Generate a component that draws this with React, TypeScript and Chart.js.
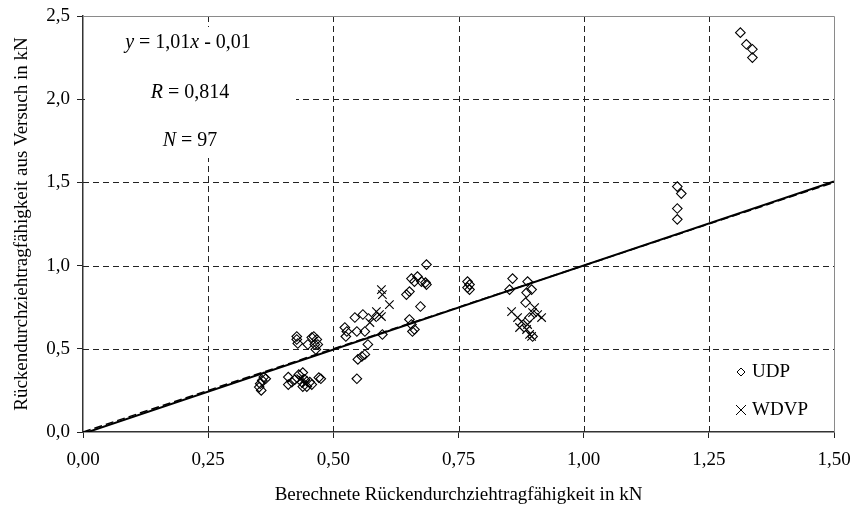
import { useEffect, useRef } from 'react';
import { Chart, registerables } from 'chart.js';

Chart.register(...registerables);

const xTicks = [0, 0.25, 0.5, 0.75, 1.0, 1.25, 1.5];
const yTicks = [0, 0.5, 1.0, 1.5, 2.0, 2.5];

const udpX = [
  0.361, 0.358, 0.354, 0.352, 0.356, 0.365,
  0.41, 0.417, 0.41, 0.423, 0.431, 0.439, 0.437, 0.443, 0.439, 0.447, 0.453, 0.457, 0.471, 0.475,
  0.427, 0.427, 0.429, 0.457, 0.461, 0.467, 0.463, 0.449, 0.469, 0.465,
  0.686, 0.656, 0.662, 0.668, 0.676, 0.684, 0.686, 0.646, 0.652, 0.674,
  0.543, 0.559, 0.523, 0.527, 0.525, 0.547, 0.563, 0.569, 0.598, 0.652,
  0.656, 0.658, 0.662, 0.547, 0.549, 0.557, 0.563,
  0.768, 0.772, 0.768, 0.772,
  0.858, 0.852, 0.888, 0.896, 0.886, 0.884, 0.892, 0.898,
  1.187, 1.195, 1.187, 1.187,
  1.313, 1.325, 1.337, 1.337,
];
const udpY = [
  0.33, 0.31, 0.29, 0.27, 0.25, 0.32,
  0.33, 0.30, 0.285, 0.315, 0.345, 0.357, 0.30, 0.315, 0.273, 0.273, 0.30, 0.285, 0.327, 0.32,
  0.574, 0.556, 0.532, 0.568, 0.574, 0.556, 0.526, 0.526, 0.526, 0.496,
  1.006, 0.922, 0.904, 0.934, 0.904, 0.898, 0.886, 0.826, 0.844, 0.754,
  0.688, 0.706, 0.628, 0.604, 0.574, 0.604, 0.604, 0.526, 0.586, 0.676,
  0.646, 0.604, 0.616, 0.32, 0.436, 0.454, 0.466,
  0.904, 0.886, 0.868, 0.856,
  0.922, 0.856, 0.904, 0.856, 0.838, 0.778, 0.688, 0.574,
  1.475, 1.433, 1.343, 1.278,
  2.40, 2.33, 2.30, 2.25,
];

const wdvpX = [
  0.44, 0.445, 0.435,
  0.596, 0.598, 0.612, 0.586, 0.592, 0.578, 0.573, 0.596,
  0.856, 0.868, 0.876, 0.872, 0.886, 0.892, 0.898, 0.908, 0.916, 0.902, 0.896, 0.888,
];
const wdvpY = [
  0.31, 0.29, 0.32,
  0.856, 0.826, 0.766, 0.724, 0.706, 0.688, 0.658, 0.694,
  0.724, 0.688, 0.664, 0.628, 0.616, 0.586, 0.718, 0.706, 0.688, 0.748, 0.574, 0.646,
];

const lineX = [0, 1.5];
const fitY = [-0.01, 1.505];
const identityY = [0, 1.5];

const FONT = "'Liberation Serif', 'Times New Roman', serif";

const decorPlugin = {
  id: 'decor',
  beforeDatasetsDraw(chart: any) {
    const { ctx, chartArea: a, scales } = chart;
    const xs = scales.x;
    const ys = scales.y;
    ctx.save();
    ctx.strokeStyle = '#222';
    ctx.lineWidth = 1;
    ctx.setLineDash([6, 4]);
    xTicks.forEach((v) => {
      if (v === 0 || v === 1.5) return;
      const px = Math.round(xs.getPixelForValue(v)) + 0.5;
      ctx.beginPath();
      ctx.moveTo(px, a.top);
      ctx.lineTo(px, a.bottom);
      ctx.stroke();
    });
    yTicks.forEach((v) => {
      if (v === 0 || v === 2.5) return;
      const py = Math.round(ys.getPixelForValue(v)) + 0.5;
      ctx.beginPath();
      ctx.moveTo(a.left, py);
      ctx.lineTo(a.right, py);
      ctx.stroke();
    });
    ctx.setLineDash([]);
    // top & right frame
    ctx.strokeStyle = '#8a8a8a';
    ctx.beginPath();
    ctx.moveTo(a.left, Math.round(a.top) + 0.5);
    ctx.lineTo(Math.round(a.right) + 0.5, Math.round(a.top) + 0.5);
    ctx.lineTo(Math.round(a.right) + 0.5, a.bottom);
    ctx.stroke();
    // annotation box
    ctx.fillStyle = '#fff';
    ctx.fillRect(a.left + 2, 27, 296 - a.left - 2, 131);
    // annotation text
    ctx.fillStyle = '#000';
    ctx.textBaseline = 'middle';
    const drawParts = (parts: [string, boolean][], cx: number, cy: number) => {
      let total = 0;
      const widths = parts.map(([t, it]) => {
        ctx.font = `${it ? 'italic ' : ''}20px ${FONT}`;
        const w = ctx.measureText(t).width;
        total += w;
        return w;
      });
      let x = cx - total / 2;
      parts.forEach(([t, it], i) => {
        ctx.font = `${it ? 'italic ' : ''}20px ${FONT}`;
        ctx.textAlign = 'left';
        ctx.fillText(t, x, cy);
        x += widths[i];
      });
    };
    drawParts([['y', true], [' = 1,01', false], ['x', true], [' - 0,01', false]], 188, 43);
    drawParts([['R', true], [' = 0,814', false]], 190, 93);
    drawParts([['N', true], [' = 97', false]], 190, 141);
    ctx.restore();
  },
  afterDraw(chart: any) {
    const { ctx, chartArea: a } = chart;
    ctx.save();
    ctx.fillStyle = '#000';
    ctx.font = `19px ${FONT}`;
    ctx.textAlign = 'center';
    ctx.textBaseline = 'middle';
    ctx.fillText('Berechnete Rückendurchziehtragfähigkeit in kN', (a.left + a.right) / 2, 495);
    ctx.translate(22, (a.top + a.bottom) / 2);
    ctx.rotate(-Math.PI / 2);
    ctx.fillText('Rückendurchziehtragfähigkeit aus Versuch in kN', 0, 0);
    ctx.restore();

    // legend
    ctx.save();
    const lx = a.right - 93;
    const y1 = a.bottom - 60;
    const y2 = a.bottom - 22;
    ctx.strokeStyle = '#000';
    ctx.lineWidth = 1;
    ctx.beginPath();
    ctx.moveTo(lx, y1 - 4);
    ctx.lineTo(lx + 4, y1);
    ctx.lineTo(lx, y1 + 4);
    ctx.lineTo(lx - 4, y1);
    ctx.closePath();
    ctx.stroke();
    ctx.beginPath();
    ctx.moveTo(lx - 5, y2 - 5);
    ctx.lineTo(lx + 5, y2 + 5);
    ctx.moveTo(lx + 5, y2 - 5);
    ctx.lineTo(lx - 5, y2 + 5);
    ctx.stroke();
    ctx.fillStyle = '#000';
    ctx.font = `19px ${FONT}`;
    ctx.textAlign = 'left';
    ctx.textBaseline = 'middle';
    ctx.fillText('UDP', lx + 11, y1);
    ctx.fillText('WDVP', lx + 11, y2);
    ctx.restore();
  },
};

export default function App() {
  const ref = useRef<HTMLCanvasElement>(null);
  useEffect(() => {
    const canvas = ref.current;
    if (!canvas) return;
    const chart = new Chart(canvas, {
      type: 'scatter',
      data: {
        datasets: [
          {
            type: 'line',
            label: 'Fit',
            data: lineX.map((x, i) => ({ x, y: fitY[i] })),
            borderColor: '#000',
            borderWidth: 2,
            pointRadius: 0,
            fill: false,
          } as any,
          {
            type: 'line',
            label: '1:1',
            data: lineX.map((x, i) => ({ x, y: identityY[i] })),
            borderColor: '#000',
            borderWidth: 1.5,
            borderDash: [8, 4],
            pointRadius: 0,
            fill: false,
          } as any,
          {
            label: 'UDP',
            data: udpX.map((x, i) => ({ x, y: udpY[i] })),
            pointStyle: 'rectRot',
            pointRadius: 4.8,
            borderColor: '#000',
            backgroundColor: 'rgba(0,0,0,0)',
            borderWidth: 1.1,
          },
          {
            label: 'WDVP',
            data: wdvpX.map((x, i) => ({ x, y: wdvpY[i] })),
            pointStyle: 'crossRot',
            pointRadius: 6,
            borderColor: '#000',
            backgroundColor: 'rgba(0,0,0,0)',
            borderWidth: 1.1,
          },
        ],
      },
      options: {
        animation: false,
        responsive: true,
        maintainAspectRatio: false,
        layout: { padding: { top: 16, right: 20, left: 0, bottom: 0 } },
        plugins: { legend: { display: false }, tooltip: { enabled: false } },
        scales: {
          x: {
            type: 'linear',
            min: 0,
            max: 1.5,
            afterBuildTicks: (s: any) => {
              s.ticks = xTicks.map((v) => ({ value: v }));
            },
            afterFit: (s: any) => {
              s.height = 74;
              s.paddingLeft = 0;
              s.paddingRight = 0;
            },
            ticks: {
              callback: (v: any) => Number(v).toFixed(2).replace('.', ','),
              font: { family: FONT, size: 19 },
              color: '#000',
              padding: 11,
              maxRotation: 0,
              autoSkip: false,
            },
            grid: {
              drawOnChartArea: false,
              drawTicks: true,
              tickLength: 6,
              tickColor: '#222',
              color: '#222',
            },
            border: { display: true, color: '#333', width: 1.5 },
          },
          y: {
            type: 'linear',
            min: 0,
            max: 2.5,
            afterBuildTicks: (s: any) => {
              s.ticks = yTicks.map((v) => ({ value: v }));
            },
            afterFit: (s: any) => {
              s.width = 83;
              s.paddingTop = 0;
              s.paddingBottom = 0;
            },
            ticks: {
              callback: (v: any) => Number(v).toFixed(1).replace('.', ','),
              font: { family: FONT, size: 19 },
              color: '#000',
              padding: 7,
              autoSkip: false,
            },
            grid: {
              drawOnChartArea: false,
              drawTicks: true,
              tickLength: 6,
              tickColor: '#222',
              color: '#222',
            },
            border: { display: true, color: '#333', width: 1.5 },
          },
        },
      },
      plugins: [decorPlugin],
    });
    return () => chart.destroy();
  }, []);
  return (
    <div style={{ position: 'fixed', left: 0, top: 0, width: 854, height: 506, background: '#fff' }}>
      <canvas ref={ref} />
    </div>
  );
}
